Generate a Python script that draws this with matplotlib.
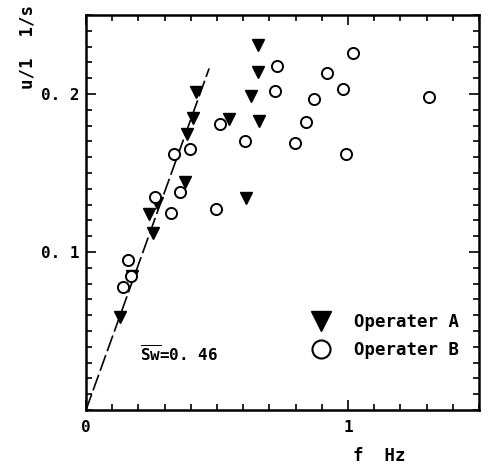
"""
Frequency plot u/l vs f for two operators, with the Sw=0.46 line.
"""
import numpy as np
import matplotlib.pyplot as plt
from matplotlib.lines import Line2D
from matplotlib.ticker import MultipleLocator

plt.rcParams['font.family'] = ['DejaVu Sans Mono', 'DejaVu Sans']
plt.rcParams['mathtext.fontset'] = 'custom'
plt.rcParams['mathtext.rm'] = 'DejaVu Sans Mono:bold'

# Operater A (filled down triangles)
f_a = [0.655, 0.655, 0.419, 0.629, 0.407, 0.546, 0.659, 0.384, 0.378,
       0.610, 0.272, 0.242, 0.257, 0.174, 0.130]
u_a = [0.231, 0.214, 0.201, 0.199, 0.185, 0.184, 0.183, 0.175, 0.144,
       0.134, 0.131, 0.124, 0.112, 0.085, 0.059]

# Operater B (open circles)
f_b = [1.020, 0.730, 0.919, 0.721, 0.980, 0.871, 0.841, 0.511, 0.608,
       0.799, 0.992, 0.337, 0.397, 0.359, 0.265, 0.326, 0.495, 0.161,
       0.142, 0.171, 1.310]
u_b = [0.226, 0.218, 0.213, 0.202, 0.203, 0.197, 0.182, 0.181, 0.170,
       0.169, 0.162, 0.162, 0.165, 0.138, 0.135, 0.125, 0.127, 0.095,
       0.078, 0.085, 0.198]

# fitted line u/l = Sw * f
sw = 0.46
f_line = [0.0, 0.47]

W, H = 488, 466
fig = plt.figure(figsize=(W / 100, H / 100), dpi=100)
fig.patch.set_facecolor('white')

left, right, top, bottom = 86, 479, 15, 410
ax = fig.add_axes([left / W, 1 - bottom / H, (right - left) / W, (bottom - top) / H])

ax.plot(f_line, [sw * v for v in f_line], color='black', linewidth=1.2,
        dashes=(10, 2.5))
ax.plot(f_a, u_a, linestyle='none', marker='v', markersize=9,
        color='black', clip_on=False)
ax.plot(f_b, u_b, linestyle='none', marker='o', markersize=8,
        markerfacecolor='white', markeredgecolor='black',
        markeredgewidth=1.4, clip_on=False)

ax.set_xlim(0, 1.5)
ax.set_ylim(0, 0.25)

ax.xaxis.set_minor_locator(MultipleLocator(0.1))
ax.yaxis.set_minor_locator(MultipleLocator(0.01))

ax.set_xticks([0, 1])
ax.set_xticklabels(['0', '1'])
ax.set_yticks([0.1, 0.2])
ax.set_yticklabels(['0. 1', '0. 2'])

ax.tick_params(which='both', direction='in', top=True, right=True,
               width=1.2, labelsize=11.5)
ax.tick_params(which='major', length=7)
ax.tick_params(which='minor', length=4)
ax.tick_params(axis='x', pad=7)
ax.tick_params(axis='y', pad=5)
for lab in ax.get_xticklabels() + ax.get_yticklabels():
    lab.set_fontweight('bold')

for sp in ax.spines.values():
    sp.set_linewidth(1.8)

ax.text(0.206, 0.035, r'$\overline{\mathrm{Sw}}$=0. 46', fontsize=11.5,
        fontweight='bold', va='center', ha='left')

handles = [
    Line2D([], [], linestyle='none', marker='v', markersize=15, color='black'),
    Line2D([], [], linestyle='none', marker='o', markersize=13,
           markerfacecolor='white', markeredgecolor='black', markeredgewidth=1.5),
]
leg = ax.legend(handles, ['Operater A', 'Operater B'], loc='upper left',
                bbox_to_anchor=(312 / W, 1 - 313 / H),
                bbox_transform=fig.transFigure, frameon=False,
                prop={'size': 12.5, 'weight': 'bold'}, borderpad=0,
                borderaxespad=0, handlelength=1.0, handletextpad=1.4,
                labelspacing=0.58, numpoints=1)

fig.text(27 / W, 1 - 5 / H, 'u/1  1/s', rotation=90, ha='center', va='top',
         fontsize=12.5, fontweight='bold')
fig.text(353 / W, 1 / H, 'f  Hz', ha='left', va='bottom',
         fontsize=12.5, fontweight='bold')

fig.savefig('out.png', dpi=100, facecolor='white')
